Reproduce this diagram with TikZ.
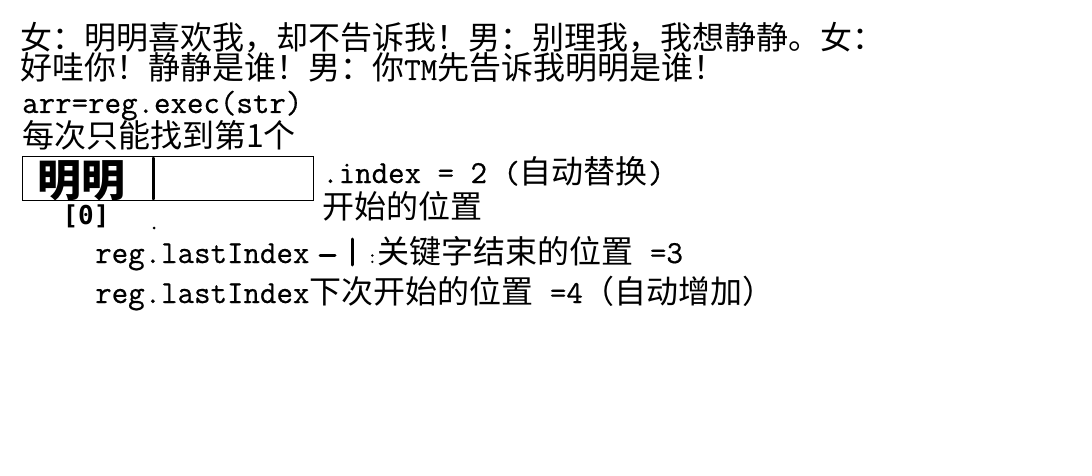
\documentclass[tikz,border=0pt]{standalone}
\usepackage{fontspec}
\newfontfamily\cjk{Noto Sans CJK SC}
\newfontfamily\mono{Latin Modern Mono}[FakeBold=0.6]
\newfontfamily\handfont{DejaVu Sans Mono}
\newcommand\zh{\cjk\fontsize{32}{32}\selectfont}
\newcommand\lat{\mono\fontsize{32}{32}\selectfont}
\begin{document}
\begin{tikzpicture}[x=1pt,y=-1pt,
  zh/.style={font=\zh,anchor=base west,inner sep=0pt},
  code/.style={font=\lat,anchor=base west,inner sep=0pt},
  pen/.style={line width=3pt,line cap=round}]
\useasboundingbox (0,0) rectangle (1092,476);
\node[zh] (dialog1) at (20,50) {女：明明喜欢我，却不告诉我！男：别理我，我想静静。女：};
\node[zh] (dialog2) at (20,80) {好哇你！静静是谁！男：你{\lat TM}先告诉我明明是谁！};
\node[code] (exec) at (22,113) {arr=reg.exec(str)};
\node[zh] (first) at (22,147) {每次只能找到第1个};
\node[draw,line width=1pt,minimum width=291pt,minimum height=44pt,anchor=north west,inner sep=0pt] (str) at (22,156) {};
\node[font=\cjk\bfseries\fontsize{44}{44}\selectfont,inner sep=0pt] (word) at (81,181) {明明};
\node[font=\handfont\bfseries\fontsize{26}{26}\selectfont,inner sep=0pt] (zero) at (86,216) {[0]};
\path (153,158) coordinate (B1) (153,199) coordinate (B2)
      (154,228) coordinate (P)
      (320,255) coordinate (D1) (335,255) coordinate (D2)
      (352,239) coordinate (C1) (352,265) coordinate (C2);
\draw[pen] (B1)--(B2) (D1)--(D2) (C1)--(C2);
\fill (P) circle (1.5pt);
\node[code] (index) at (322,183) {.index = 2 ({\zh 自动替换})};
\node[zh] (start) at (322,218) {开始的位置};
\node[code] (last) at (95,263) {reg.lastIndex};
\node[code] (end) at (367,263) {{\fontsize{20}{20}\selectfont :}{\zh 关键字结束的位置} =3};
\node[code] (next) at (95,303) {reg.lastIndex{\zh 下次开始的位置} =4{\zh （自动增加）}};
\end{tikzpicture}
\end{document}
